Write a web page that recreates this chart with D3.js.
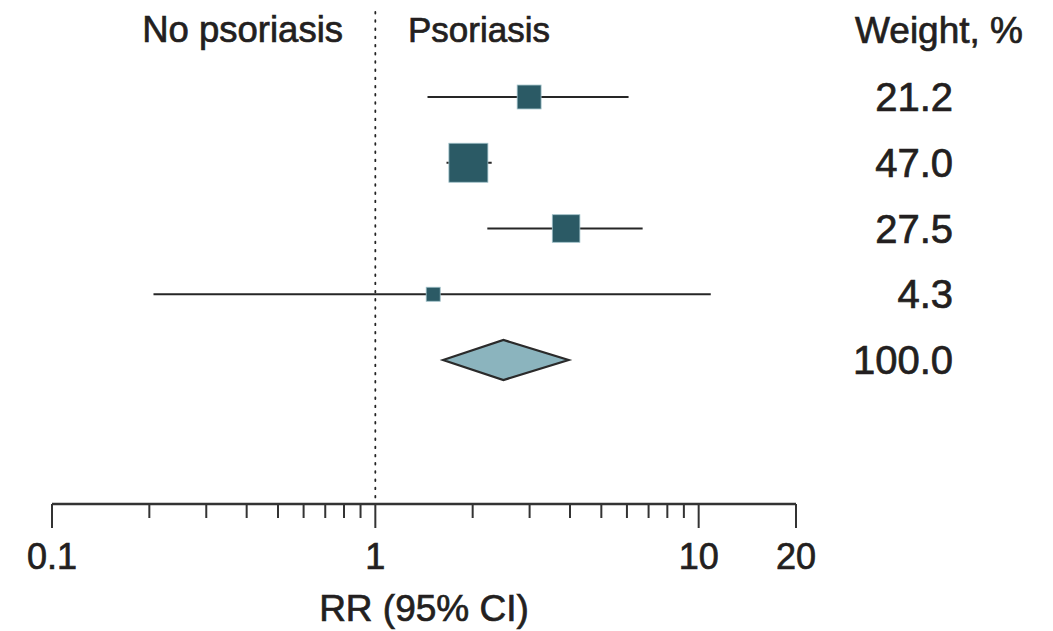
<!DOCTYPE html>
<html>
<head>
<meta charset="utf-8">
<script src="https://cdn.jsdelivr.net/npm/d3@7"></script>
<style>
  html, body { margin: 0; padding: 0; background: #fff; }
  svg { display: block; }
  text { font-family: "Liberation Sans", Arial, sans-serif; fill: #231f20; stroke: #231f20; stroke-width: 0.7px; }
</style>
</head>
<body>
<svg id="chart" width="1053" height="631"></svg>
<script>
// ---- data ----
const rows = ["Study 1", "Study 2", "Study 3", "Study 4", "Overall"];
const rr = [2.99, 1.94, 3.89, 1.51, 2.49];
const lower = [1.45, 1.66, 2.22, 0.206, 1.62];
const upper = [6.07, 2.29, 6.71, 10.9, 3.96];
const weights = ["21.2", "47.0", "27.5", "4.3", "100.0"];
const majorTicks = [0.1, 1, 10, 20];
const minorTicks = [0.2, 0.3, 0.4, 0.5, 0.6, 0.7, 0.8, 0.9, 2, 3, 4, 5, 6, 7, 8, 9];
const tickLabels = ["0.1", "1", "10", "20"];
const leftLabel = "No psoriasis";
const rightLabel = "Psoriasis";
const weightHeader = "Weight, %";
const axisTitle = "RR (95% CI)";

// ---- drawing ----
const svg = d3.select("#chart");
const x = d3.scaleLog().domain([0.1, 20]).range([52, 796]);
const y = d3.scalePoint().domain(rows).range([97, 360]);
const size = d3.scaleLinear().domain([0, 47]).range([11.5, 39]);
const axisY = 504;

// reference line at RR = 1
svg.append("line")
  .attr("x1", x(1)).attr("x2", x(1))
  .attr("y1", 12).attr("y2", axisY - 3)
  .attr("stroke", "#222").attr("stroke-width", 1.8)
  .attr("stroke-dasharray", "1.6,6.6")
  .attr("stroke-linecap", "round");

// headers
svg.append("text").attr("x", 343).attr("y", 42)
  .attr("text-anchor", "end").attr("font-size", 36.5).text(leftLabel);
svg.append("text").attr("x", 408).attr("y", 42)
  .attr("text-anchor", "start").attr("font-size", 35).text(rightLabel);
svg.append("text").attr("x", 1023).attr("y", 43)
  .attr("text-anchor", "end").attr("font-size", 37).text(weightHeader);

const studies = rows.slice(0, 4).map((r, i) => ({ r, rr: rr[i], lo: lower[i], hi: upper[i], w: +weights[i] }));

// CI lines
svg.selectAll("line.ci").data(studies).join("line")
  .attr("class", "ci")
  .attr("x1", d => x(d.lo)).attr("x2", d => x(d.hi))
  .attr("y1", d => y(d.r)).attr("y2", d => y(d.r))
  .attr("stroke", "#262626").attr("stroke-width", 2.2);

// squares
svg.selectAll("rect.pt").data(studies).join("rect")
  .attr("class", "pt")
  .attr("x", d => x(d.rr) - size(d.w) / 2)
  .attr("y", d => y(d.r) - size(d.w) / 2)
  .attr("width", d => size(d.w))
  .attr("height", d => size(d.w))
  .attr("fill", "#2b5a65")
  .attr("stroke", "#9fc0c8").attr("stroke-width", 0.8);

// diamond
const oi = 4;
const oy = y(rows[oi]);
const dh = 20;
svg.append("path")
  .attr("d", `M${x(lower[oi])},${oy} L${x(rr[oi])},${oy - dh} L${x(upper[oi])},${oy} L${x(rr[oi])},${oy + dh} Z`)
  .attr("fill", "#8bb4be").attr("stroke", "#2a2a2a").attr("stroke-width", 2.2)
  .attr("stroke-linejoin", "miter");

// weights
svg.selectAll("text.w").data(rows).join("text")
  .attr("class", "w")
  .attr("x", 953).attr("y", d => y(d) + 14)
  .attr("text-anchor", "end").attr("font-size", 40)
  .text((d, i) => weights[i]);

// axis
svg.append("line")
  .attr("x1", x(0.1)).attr("x2", x(20))
  .attr("y1", axisY).attr("y2", axisY)
  .attr("stroke", "#333").attr("stroke-width", 2.4);
svg.selectAll("line.major").data(majorTicks).join("line")
  .attr("class", "major")
  .attr("x1", d => x(d)).attr("x2", d => x(d))
  .attr("y1", axisY).attr("y2", axisY + 24)
  .attr("stroke", "#333").attr("stroke-width", 2);
svg.selectAll("line.minor").data(minorTicks).join("line")
  .attr("class", "minor")
  .attr("x1", d => x(d)).attr("x2", d => x(d))
  .attr("y1", axisY).attr("y2", axisY + 14)
  .attr("stroke", "#333").attr("stroke-width", 2);
svg.selectAll("text.tick").data(majorTicks).join("text")
  .attr("class", "tick")
  .attr("x", d => x(d)).attr("y", 569)
  .attr("text-anchor", "middle").attr("font-size", 36)
  .text((d, i) => tickLabels[i]);
svg.append("text")
  .attr("x", (x(0.1) + x(20)) / 2).attr("y", 621)
  .attr("text-anchor", "middle").attr("font-size", 37)
  .text(axisTitle);
</script>
</body>
</html>
